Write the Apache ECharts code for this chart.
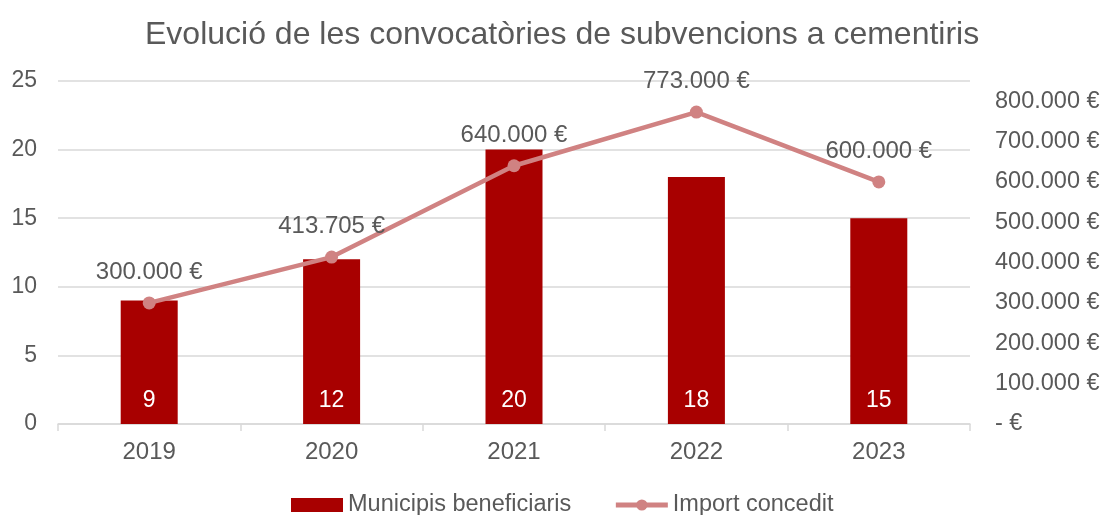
<!DOCTYPE html>
<html>
<head>
<meta charset="utf-8">
<script src="https://cdn.jsdelivr.net/npm/echarts@6/dist/echarts.min.js"></script>
<style>
html, body { margin: 0; padding: 0; background: #fff; }
#chart { width: 1108px; height: 515px; }
</style>
</head>
<body>
<div id="chart"></div>
<script>
var years = ['2019', '2020', '2021', '2022', '2023'];
var municipis = [9, 12, 20, 18, 15];
var importConcedit = [300000, 413705, 640000, 773000, 600000];

function euro(v) {
    if (v === 0) return '- €';
    return String(v).replace(/\B(?=(\d{3})+(?!\d))/g, '.') + ' €';
}

var chartDom = document.getElementById('chart');
var myChart = echarts.init(chartDom);
var textColor = '#595959';
var font = 'Liberation Sans, Arial, sans-serif';
var lineColor = '#D08282';

var option = {
    animation: false,
    textStyle: { fontFamily: font },
    title: {
        text: 'Evolució de les convocatòries de subvencions a cementiris',
        left: 140,
        top: 14,
        textStyle: { fontSize: 32, fontWeight: 'normal', color: textColor, fontFamily: font }
    },
    legend: {
        bottom: -7,
        left: 286,
        itemGap: 42,
        itemWidth: 52,
        itemHeight: 14,
        textStyle: { fontSize: 23.5, color: textColor, fontFamily: font },
        data: [
            { name: 'Municipis beneficiaris', icon: 'rect' },
            { name: 'Import concedit', lineStyle: { width: 5, color: lineColor }, itemStyle: { color: lineColor } }
        ]
    },
    grid: { left: 58, right: 138, top: 81, bottom: 91 },
    xAxis: {
        type: 'category',
        data: years,
        axisLine: { lineStyle: { color: '#d9d9d9', width: 1.5 } },
        axisTick: { show: true, length: 7, lineStyle: { color: '#d9d9d9', width: 1.5 } },
        axisLabel: { fontSize: 24, color: textColor, margin: 16 }
    },
    yAxis: [
        {
            type: 'value',
            min: 0,
            max: 25,
            interval: 5,
            axisLine: { show: false },
            axisTick: { show: false },
            splitLine: { lineStyle: { color: '#d9d9d9', width: 1.5 } },
            axisLabel: { fontSize: 23, color: textColor, margin: 21 }
        },
        {
            type: 'value',
            min: 0,
            max: 850000,
            interval: 100000,
            axisLine: { show: false },
            axisTick: { show: false },
            splitLine: { show: false },
            axisLabel: {
                fontSize: 23.5,
                color: textColor,
                margin: 25,
                showMaxLabel: false,
                formatter: function (v) { return v > 800000 ? '' : euro(v); }
            }
        }
    ],
    series: [
        {
            name: 'Municipis beneficiaris',
            type: 'bar',
            yAxisIndex: 0,
            barWidth: 57,
            itemStyle: { color: '#A80000' },
            label: {
                show: true,
                position: 'insideBottom',
                distance: 12,
                color: '#ffffff',
                fontSize: 23
            },
            data: municipis
        },
        {
            name: 'Import concedit',
            type: 'line',
            yAxisIndex: 1,
            symbol: 'circle',
            symbolSize: 13,
            lineStyle: { color: lineColor, width: 4.5 },
            itemStyle: { color: lineColor },
            label: {
                show: true,
                position: 'top',
                distance: 12,
                color: textColor,
                fontSize: 24,
                formatter: function (p) { return euro(p.value); }
            },
            data: importConcedit
        }
    ]
};
option && myChart.setOption(option);
</script>
</body>
</html>
